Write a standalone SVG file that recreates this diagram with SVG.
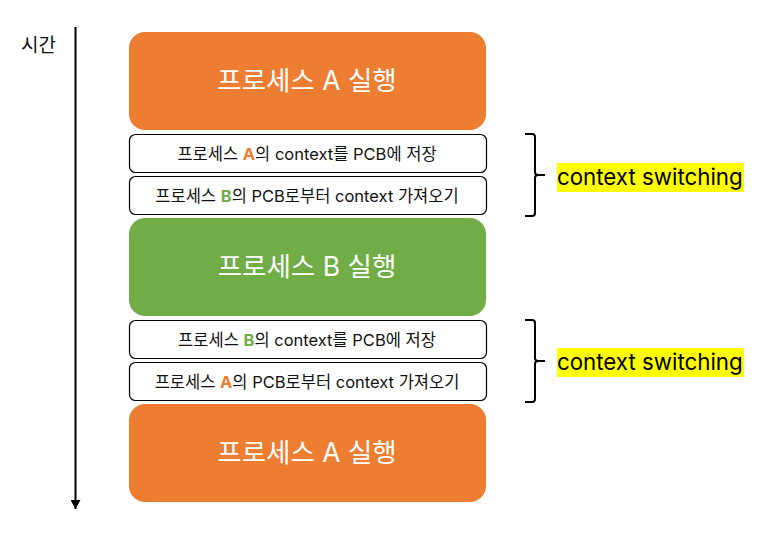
<svg xmlns="http://www.w3.org/2000/svg" width="764" height="535" viewBox="0 0 764 535">
<style>
text{font-family:"Inter","Noto Sans CJK KR",sans-serif;}
.big{font-size:26.5px;fill:#fff;text-anchor:middle;}
.small{font-size:16.5px;fill:#111;text-anchor:middle;}
.step{fill:#fff;stroke:#000;stroke-width:1.2;}
.orange{fill:#ED7D31;}
.green{fill:#70AD47;}
.ba{fill:#ED7D31;font-weight:bold;}
.bb{fill:#70AD47;font-weight:bold;}
.brace{fill:none;stroke:#000;stroke-width:2;}
.cs{font-size:22.3px;fill:#000;}
</style>
<defs>
<marker id="ah" markerWidth="10" markerHeight="10" refX="9" refY="5" orient="auto" markerUnits="userSpaceOnUse">
<path d="M0,0 L9,5 L0,10 Z" fill="#000"/>
</marker>
</defs>
<g id="connectors">
<line x1="75.5" y1="27" x2="75.5" y2="509" stroke="#000" stroke-width="2" marker-end="url(#ah)"/>
</g>
<g id="time-label"><text x="21" y="52" font-size="19" fill="#111">시간</text></g>
<g id="procA1"><rect class="orange" x="129" y="32" width="357" height="98" rx="16"/><text class="big" x="307" y="90">프로세스 A 실행</text></g>
<g id="saveA"><rect class="step" x="129.5" y="134.5" width="357" height="38" rx="6"/><text class="small" x="307" y="159.5">프로세스 <tspan class="ba">A</tspan>의 context를 PCB에 저장</text></g>
<g id="loadB"><rect class="step" x="129.5" y="176.5" width="357" height="38" rx="6"/><text class="small" x="307" y="201.5">프로세스 <tspan class="bb">B</tspan>의 PCB로부터 context 가져오기</text></g>
<g id="procB"><rect class="green" x="129" y="218" width="357" height="98" rx="16"/><text class="big" x="307" y="276">프로세스 B 실행</text></g>
<g id="saveB"><rect class="step" x="129.5" y="320.5" width="357" height="38" rx="6"/><text class="small" x="307" y="345.5">프로세스 <tspan class="bb">B</tspan>의 context를 PCB에 저장</text></g>
<g id="loadA"><rect class="step" x="129.5" y="362.5" width="357" height="38" rx="6"/><text class="small" x="307" y="387.5">프로세스 <tspan class="ba">A</tspan>의 PCB로부터 context 가져오기</text></g>
<g id="procA2"><rect class="orange" x="129" y="404" width="357" height="98" rx="16"/><text class="big" x="307" y="462">프로세스 A 실행</text></g>
<g id="switch1">
<path class="brace" d="M525,134 L532,134 Q535,134 535,137 L535,172 Q535,175 538,175 L545,175 M538,175 Q535,175 535,178 L535,213 Q535,216 532,216 L525,216"/>
<rect x="557" y="163" width="187" height="29" fill="#FFFF00"/>
<text class="cs" x="557" y="185">context switching</text>
</g>
<g id="switch2">
<path class="brace" d="M525,320 L532,320 Q535,320 535,323 L535,358 Q535,361 538,361 L545,361 M538,361 Q535,361 535,364 L535,399 Q535,402 532,402 L525,402"/>
<rect x="557" y="348" width="187" height="29" fill="#FFFF00"/>
<text class="cs" x="557" y="370">context switching</text>
</g>
</svg>
